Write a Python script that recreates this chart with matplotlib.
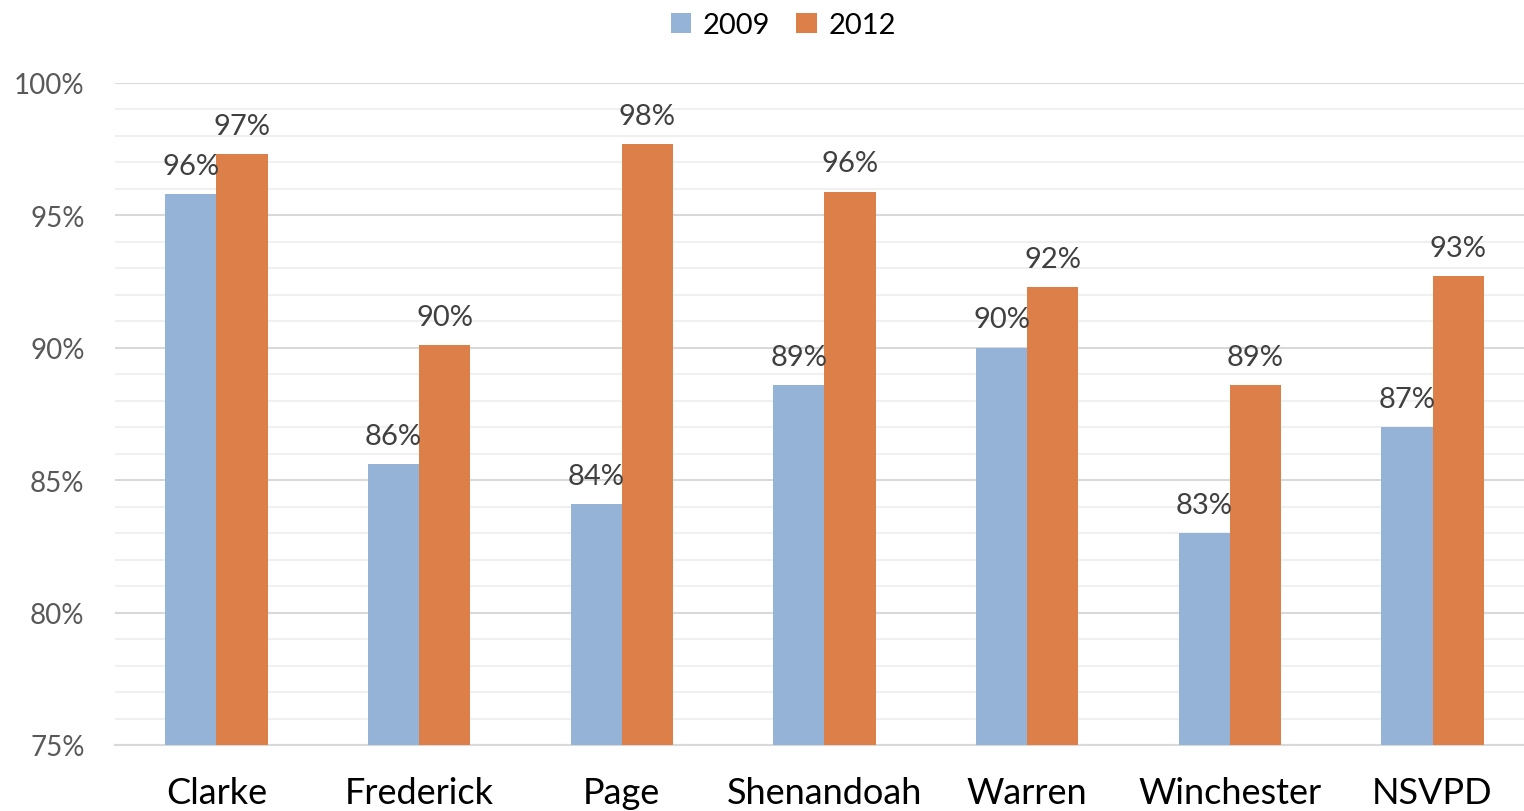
import numpy as np
import matplotlib.pyplot as plt
from matplotlib.ticker import MultipleLocator, FuncFormatter

plt.rcParams['font.family'] = ['Lato', 'DejaVu Sans']

regions = ["Clarke", "Frederick", "Page", "Shenandoah", "Warren", "Winchester", "NSVPD"]
vals_2009 = [95.8, 85.6, 84.1, 88.6, 90.0, 83.0, 87.0]
vals_2012 = [97.3, 90.1, 97.7, 95.9, 92.3, 88.6, 92.7]

blue = "#95b3d7"
orange = "#dd7f48"

fig = plt.figure(figsize=(15.24, 8.12), dpi=100)
ax = fig.add_axes([0.0755, 0.0813, 0.931, 0.8153])

x = np.arange(len(regions))
w = 0.253
b1 = ax.bar(x - w / 2, vals_2009, w, color=blue, label="2009", zorder=3)
b2 = ax.bar(x + w / 2, vals_2012, w, color=orange, label="2012", zorder=3)

for bars, vals in ((b1, vals_2009), (b2, vals_2012)):
    for rect, v in zip(bars, vals):
        ax.annotate(f"{round(v):.0f}%", (rect.get_x() + rect.get_width() / 2, v),
                    xytext=(0, 11), textcoords="offset points",
                    ha="center", va="bottom", fontsize=21, color="#404040")

ax.set_ylim(75, 100)
ax.set_xlim(-0.5, len(regions) - 0.5)
ax.yaxis.set_major_locator(MultipleLocator(5))
ax.yaxis.set_minor_locator(MultipleLocator(1))
ax.yaxis.set_major_formatter(FuncFormatter(lambda v, p: f"{v:.0f}%"))
ax.grid(axis="y", which="major", color="#d9d9d9", linewidth=1.5, zorder=0)
ax.grid(axis="y", which="minor", color="#f0f0f0", linewidth=1.5, zorder=0)
ax.tick_params(axis="y", which="both", length=0, labelsize=20, labelcolor="#595959", pad=22)
ax.tick_params(axis="x", length=0, labelsize=26, labelcolor="black", pad=22)
ax.set_xticks(x)
ax.set_xticklabels(regions)
for s in ("top", "right", "left"):
    ax.spines[s].set_visible(False)
ax.spines["bottom"].set_color("#d9d9d9")
ax.spines["bottom"].set_linewidth(1.5)

fig.legend(handles=[b1, b2], loc="upper center", bbox_to_anchor=(0.514, 1.016), ncol=2,
           frameon=False, fontsize=21, handlelength=0.7, handleheight=0.7,
           handletextpad=0.4, columnspacing=0.9)

fig.savefig("out.png", dpi=100)
